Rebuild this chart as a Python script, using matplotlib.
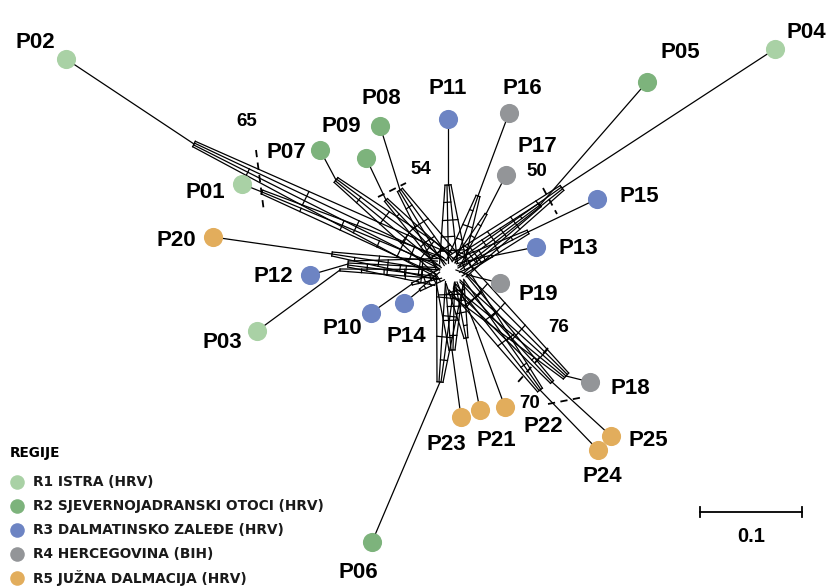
import numpy as np
import matplotlib
matplotlib.use("Agg")
from matplotlib import pyplot as plt

# populations: leaf position, point where the terminal branch joins the web,
# and where its splits end in the core of the network
names = ["P01", "P02", "P03", "P04", "P05", "P06", "P07", "P08", "P09", "P10",
         "P11", "P12", "P13", "P14", "P15", "P16", "P17", "P18", "P19", "P20",
         "P21", "P22", "P23", "P24", "P25"]
region = [0, 0, 0, 0, 1, 1, 1, 1, 1, 2,
          2, 2, 2, 2, 2, 3, 3, 3, 3, 4,
          4, 4, 4, 4, 4]
leaf_x = [242, 66, 257, 775, 647, 372, 320, 380, 366, 371,
          448, 310, 536, 404, 597, 509, 506, 590, 500, 213,
          480, 505, 461, 598, 611]
leaf_y = [184, 59, 331, 49, 82, 542, 150, 126, 158, 313,
          119, 275, 247, 303, 199, 113, 175, 382, 283, 237,
          410, 407, 417, 450, 436]
join_x = [262, 194, 340, 562, 540, 440, 336, 400, 386, 412,
          448, 348, 492, 420, 528, 478, 486, 566, 472, 332,
          466, 476, 452, 540, 552]
join_y = [192, 144, 270, 188, 205, 382, 180, 190, 200, 284,
          185, 264, 256, 290, 232, 196, 214, 376, 276, 254,
          338, 328, 350, 390, 382]
core_x = [440, 442, 438, 458, 458, 450, 444, 448, 446, 440,
          453, 436, 458, 442, 458, 455, 456, 460, 456, 436,
          455, 457, 450, 460, 460]
core_y = [266, 265, 274, 266, 266, 282, 264, 263, 264, 274,
          263, 272, 268, 276, 268, 263, 264, 280, 270, 270,
          282, 282, 284, 282, 282]
strands = [3, 4, 2, 4, 3, 4, 4, 4, 3, 2,
           4, 4, 2, 2, 3, 3, 2, 5, 1, 3,
           3, 1, 4, 4, 3]
label_x = [205, 35, 222, 806, 680, 358, 286, 381, 341, 342,
           448, 273, 578, 406, 639, 522, 537, 630, 538, 176,
           496, 543, 446, 602, 648]
label_y = [193, 42, 343, 33, 53, 573, 152, 99, 127, 328,
           89, 277, 249, 337, 196, 88, 147, 389, 295, 240,
           441, 427, 444, 477, 441]

regions = ["R1 ISTRA (HRV)", "R2 SJEVERNOJADRANSKI OTOCI (HRV)",
           "R3 DALMATINSKO ZALEĐE (HRV)", "R4 HERCEGOVINA (BIH)",
           "R5 JUŽNA DALMACIJA (HRV)"]
colors = ["#a9d1a5", "#7db37c", "#6d84c3", "#939598", "#e2ad5c"]

# bootstrap support values and the split they mark
boot = ["65", "54", "50", "76", "70"]
boot_tx = [247, 421, 537, 559, 530]
boot_ty = [121, 170, 171, 328, 404]
boot_x0 = [256, 378, 543, 548, 548]
boot_y0 = [150, 197, 188, 348, 404]
boot_x1 = [264, 406, 557, 518, 584]
boot_y1 = [212, 183, 214, 382, 397]


def web(ax, p0, p1, n, g0=2.0, g1=9.0, rungs=(0.0, 0.22, 0.45, 0.66, 0.84)):
    # split lines that open up towards the core, joined by short edges
    p0 = np.array(p0, float)
    p1 = np.array(p1, float)
    d = p1 - p0
    u = d / np.hypot(*d)
    nv = np.array([-u[1], u[0]])
    k = np.arange(n) - (n - 1) / 2
    for o in k:
        a, b = p0 + o * g0 * nv, p1 + o * g1 * nv
        ax.plot([a[0], b[0]], [a[1], b[1]], color="k", lw=0.9, zorder=2)
    if n > 1:
        for j, t in enumerate(rungs):
            c = p0 + t * d
            g = g0 + t * (g1 - g0)
            lo = k[0] if j % 2 == 0 else k[0] + 1
            if lo >= k[-1]:
                lo = k[0]
            a, b = c + lo * g * nv, c + k[-1] * g * nv
            ax.plot([a[0], b[0]], [a[1], b[1]], color="k", lw=0.9, zorder=2)


fig = plt.figure(figsize=(8.28, 5.88), dpi=100)
ax = fig.add_axes([0, 0, 1, 1])
ax.set_xlim(0, 828)
ax.set_ylim(588, 0)
ax.axis("off")

for i, nm in enumerate(names):
    ax.plot([leaf_x[i], join_x[i]], [leaf_y[i], join_y[i]], color="k", lw=0.9, zorder=2)
    web(ax, (join_x[i], join_y[i]), (core_x[i], core_y[i]), strands[i])
    ax.scatter(leaf_x[i], leaf_y[i], s=190, color=colors[region[i]], zorder=3, linewidths=0)
    ax.text(label_x[i], label_y[i], nm, fontsize=16, fontweight="bold",
            family="Liberation Sans", ha="center", va="center")

for i, b in enumerate(boot):
    ax.plot([boot_x0[i], boot_x1[i]], [boot_y0[i], boot_y1[i]], color="k",
            lw=1.3, ls=(0, (4, 3)), zorder=2)
    ax.text(boot_tx[i], boot_ty[i], b, fontsize=13.5, fontweight="bold",
            family="Liberation Sans", ha="center", va="center")

# scale bar
ax.plot([700, 802], [512, 512], color="k", lw=1.3)
ax.plot([700, 700], [507, 517], color="k", lw=1.3)
ax.plot([802, 802], [507, 517], color="k", lw=1.3)
ax.text(751, 536, "0.1", fontsize=14.5, fontweight="bold",
        family="Liberation Sans", ha="center", va="center")

# legend
ax.text(10, 453, "REGIJE", fontsize=9.8, fontweight="bold", ha="left", va="center")
for k, r in enumerate(regions):
    y = 482 + k * 24
    ax.scatter(17, y, s=110, color=colors[k], linewidths=0)
    ax.text(33, y, r, fontsize=9.9, fontweight="bold", ha="left", va="center",
            color="#1a1a1a")

fig.savefig("out.png", dpi=100)
